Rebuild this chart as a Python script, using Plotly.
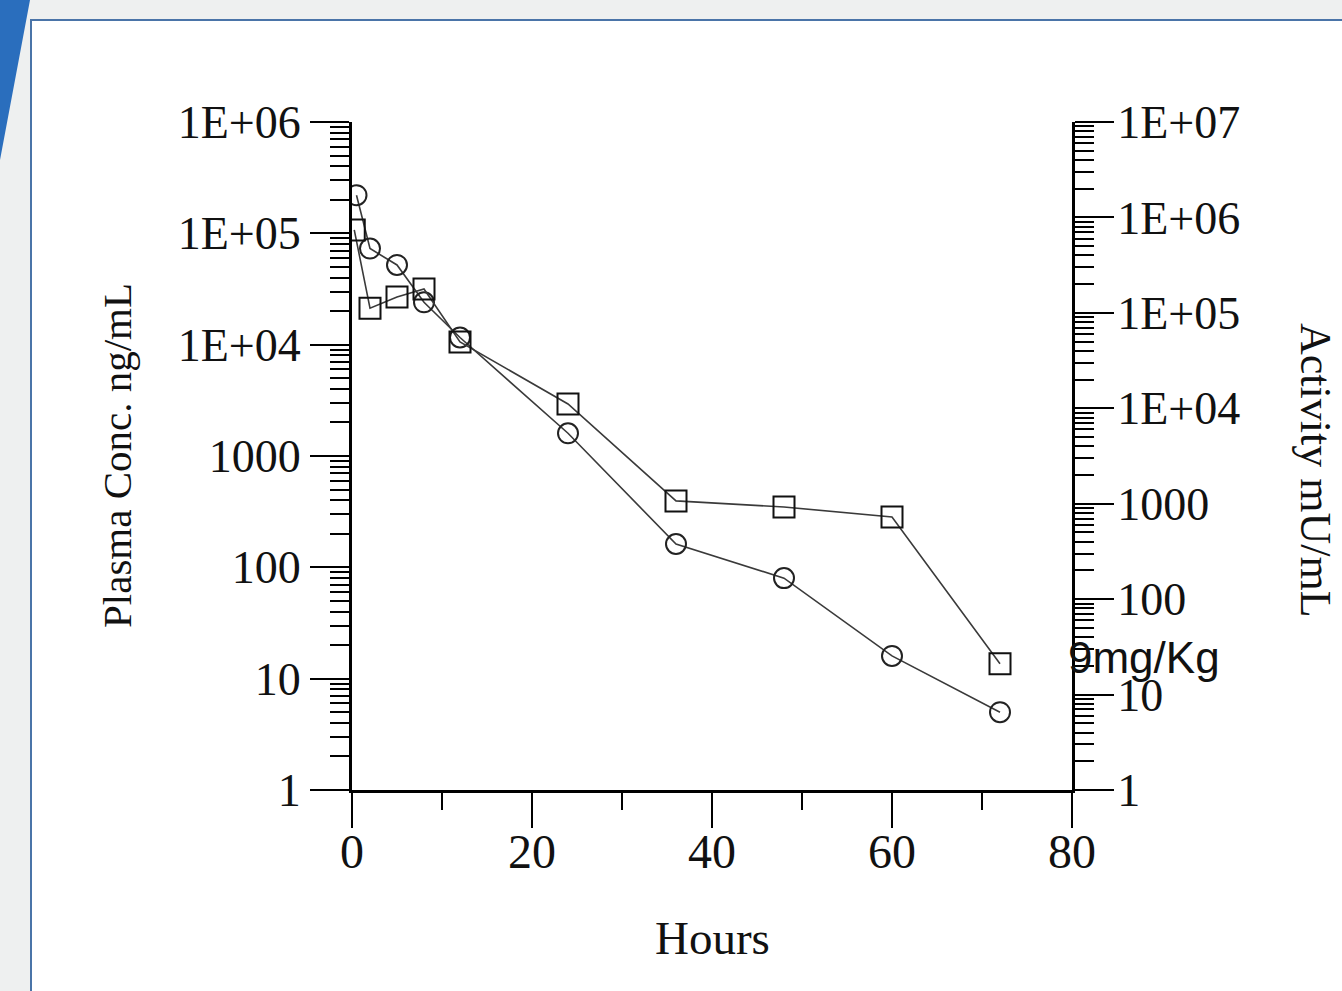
import plotly.graph_objects as go

# ---- data ----
hours_circle = [0.5, 2, 5, 8, 12, 24, 36, 48, 60, 72]
plasma_conc = [220000, 73000, 52000, 24000, 11600, 1600, 162, 80, 16, 5.0]

hours_square = [0.25, 2, 5, 8, 12, 24, 36, 48, 60, 72]
activity = [740000, 112000, 147000, 178000, 49500, 11100, 1070, 924, 726, 21]

x_ticks = [0, 20, 40, 60, 80]
x_minor = [10, 30, 50, 70]
left_tickvals = [1, 10, 100, 1000, 1e4, 1e5, 1e6]
left_ticktext = ["1", "10", "100", "1000", "1E+04", "1E+05", "1E+06"]
right_tickvals = [1, 10, 100, 1000, 1e4, 1e5, 1e6, 1e7]
right_ticktext = ["1", "10", "100", "1000", "1E+04", "1E+05", "1E+06", "1E+07"]
dose_label = "9mg/Kg"

left_minor = [m * 10 ** k for k in range(6) for m in range(2, 10)]
right_minor = [m * 10 ** k for k in range(7) for m in range(2, 10)]

serif = "Liberation Serif"
ink = "#111111"
line_col = "#3a3a3a"

fig = go.Figure()
fig.add_trace(go.Scatter(
    x=hours_circle, y=plasma_conc, mode="lines+markers", yaxis="y",
    line=dict(color=line_col, width=1.6),
    marker=dict(symbol="circle-open", size=20, color="#222222", line=dict(width=2, color="#222222")),
    showlegend=False))
fig.add_trace(go.Scatter(
    x=hours_square, y=activity, mode="lines+markers", yaxis="y2",
    line=dict(color=line_col, width=1.6),
    marker=dict(symbol="square-open", size=21, color="#111111", line=dict(width=2, color="#111111")),
    showlegend=False))

ytickfont = dict(family=serif, size=46, color=ink)
xtickfont = dict(family=serif, size=48, color=ink)

fig.update_layout(
    width=1342, height=991,
    margin=dict(l=352, r=270, t=122, b=201),
    paper_bgcolor="#eef0f0",
    plot_bgcolor="rgba(0,0,0,0)",
    xaxis=dict(
        range=[0, 80], tickvals=x_ticks, ticktext=[str(v) for v in x_ticks],
        showgrid=False, zeroline=False, showline=True, linecolor="black", linewidth=3,
        ticks="outside", ticklen=35, tickwidth=2, tickcolor="black",
        minor=dict(tickvals=x_minor, ticks="outside", ticklen=17, tickwidth=2, tickcolor="black", showgrid=False),
        tickfont=xtickfont, ticklabelstandoff=-18,
    ),
    yaxis=dict(
        type="log", range=[0, 6], tickvals=left_tickvals, ticktext=left_ticktext,
        showgrid=False, zeroline=False, showline=True, linecolor="black", linewidth=3,
        ticks="outside", ticklen=39, tickwidth=2, tickcolor="black",
        minor=dict(tickvals=left_minor, ticks="outside", ticklen=19, tickwidth=2, tickcolor="black", showgrid=False),
        tickfont=ytickfont,
    ),
    yaxis2=dict(
        type="log", range=[0, 7], tickvals=right_tickvals, ticktext=right_ticktext,
        overlaying="y", side="right",
        showgrid=False, zeroline=False, showline=True, linecolor="black", linewidth=3,
        ticks="outside", ticklen=39, tickwidth=2, tickcolor="black",
        minor=dict(tickvals=right_minor, ticks="outside", ticklen=19, tickwidth=2, tickcolor="black", showgrid=False),
        tickfont=ytickfont, ticklabelstandoff=-6,
    ),
)

# background decoration: white panel with blue border and blue stripe
fig.add_shape(type="rect", xref="paper", yref="paper", layer="below",
              x0=(31 - 352) / 720, x1=2.0, y0=-2.0, y1=(790 - 20) / 668,
              fillcolor="white", line=dict(color="#4a74a8", width=2))
fig.add_shape(type="path", xref="paper", yref="paper", layer="below",
              path="M {a},{b} L {c},{b} L {a},{d} Z".format(
                  a=(0 - 352) / 720, b=(790 - 0) / 668, c=(30 - 352) / 720, d=(790 - 160) / 668),
              fillcolor="#2a6ebd", line=dict(width=0))

# axis titles
fig.add_annotation(xref="paper", yref="paper", x=(712 - 352) / 720, y=(790 - 938) / 668,
                   text="Hours", showarrow=False, xanchor="center", yanchor="middle",
                   font=dict(family=serif, size=47, color=ink))
fig.add_annotation(xref="paper", yref="paper", x=(117 - 352) / 720, y=(790 - 456) / 668,
                   text="Plasma Conc. ng/mL", textangle=-90, showarrow=False,
                   xanchor="center", yanchor="middle",
                   font=dict(family=serif, size=41, color=ink))
fig.add_annotation(xref="paper", yref="paper", x=(1316 - 352) / 720, y=(790 - 470) / 668,
                   text="Activity mU/mL", textangle=90, showarrow=False,
                   xanchor="center", yanchor="middle",
                   font=dict(family=serif, size=44, color=ink))
fig.add_annotation(xref="paper", yref="paper", x=(1066 - 352) / 720, y=(790 - 657) / 668,
                   xanchor="left", yanchor="middle", text=dose_label, showarrow=False,
                   font=dict(family="Liberation Sans", size=44, color=ink))

fig.write_html("out.html", config={"displayModeBar": False},
               post_script="document.body.style.margin='0';")
